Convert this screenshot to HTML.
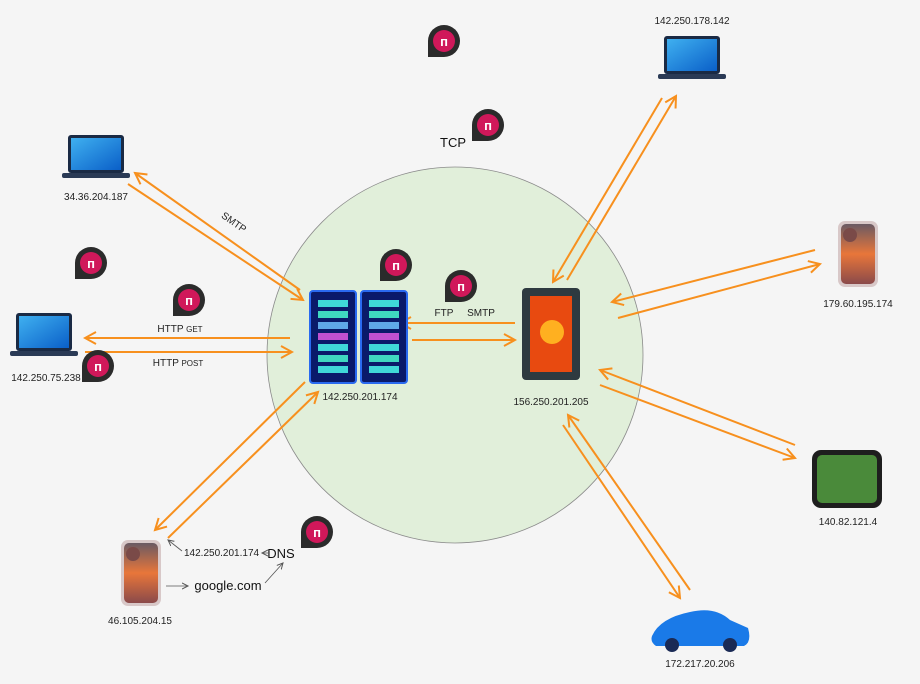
<!DOCTYPE html>
<html><head><meta charset="utf-8"><style>
html,body{margin:0;padding:0;background:#f5f5f5}
svg{display:block;font-family:"Liberation Sans",sans-serif}
</style></head><body>
<svg width="920" height="684" viewBox="0 0 920 684" xmlns="http://www.w3.org/2000/svg">
<defs>
<marker id="ah" markerWidth="14" markerHeight="14" refX="12" refY="7" orient="auto" markerUnits="userSpaceOnUse">
<path d="M1,1 L12,7 L1,13" fill="none" stroke="#f7901e" stroke-width="2"/>
</marker>
<marker id="sa" markerWidth="8" markerHeight="8" refX="6" refY="4" orient="auto" markerUnits="userSpaceOnUse">
<path d="M0,1 L6,4 L0,7" fill="none" stroke="#555" stroke-width="1"/>
</marker>
<linearGradient id="ph" x1="0" y1="0" x2="0" y2="1"><stop offset="0" stop-color="#6a5a63"/><stop offset="0.5" stop-color="#e8763a"/><stop offset="1" stop-color="#8a4a4a"/></linearGradient>
<linearGradient id="scr" x1="0" y1="0" x2="1" y2="1"><stop offset="0" stop-color="#3fb0f0"/><stop offset="1" stop-color="#0a5fc8"/></linearGradient>
<g id="badge"><path d="M0,16 A16,16 0 1 1 16,32 L0,32 Z" fill="#2b2b2b"/><circle cx="16" cy="16" r="11" fill="#d0185a"/><text x="16" y="21" font-size="13" fill="#fff" text-anchor="middle" font-weight="bold">п</text></g>
<g id="laptop"><rect x="6" y="0" width="56" height="38" rx="3" fill="#1a2a44"/><rect x="9" y="3" width="50" height="32" fill="url(#scr)"/><rect x="0" y="38" width="68" height="5" rx="2" fill="#2a3a55"/></g>
<g id="phone"><rect x="0" y="0" width="40" height="66" rx="7" fill="#d8c8c8"/><rect x="3" y="3" width="34" height="60" rx="5" fill="url(#ph)"/><circle cx="12" cy="14" r="7" fill="#7a4a48"/></g>
<g id="rack"><rect x="0" y="0" width="46" height="92" rx="3" fill="#0a1a6a" stroke="#2a6af0" stroke-width="2"/>
<rect x="8" y="9" width="30" height="7" fill="#3fd8d8"/><rect x="8" y="20" width="30" height="7" fill="#3fd8c0"/><rect x="8" y="31" width="30" height="7" fill="#5fa8e8"/><rect x="8" y="42" width="30" height="7" fill="#c050d0"/><rect x="8" y="53" width="30" height="7" fill="#3fd8d8"/><rect x="8" y="64" width="30" height="7" fill="#3fd8c0"/><rect x="8" y="75" width="30" height="7" fill="#3fd8d8"/></g>
</defs>

<circle cx="455" cy="355" r="188" fill="#e1efda" stroke="#8a8a8a" stroke-width="0.8"/>

<g stroke="#f7901e" stroke-width="2" fill="none" marker-end="url(#ah)">
<line x1="300" y1="290" x2="135" y2="173"/>
<line x1="128" y1="184" x2="303" y2="300"/>
<line x1="290" y1="338" x2="85" y2="338"/>
<line x1="85" y1="352" x2="292" y2="352"/>
<line x1="305" y1="382" x2="155" y2="530"/>
<line x1="168" y1="538" x2="318" y2="392"/>
<line x1="515" y1="323" x2="400" y2="323"/>
<line x1="412" y1="340" x2="515" y2="340"/>
<line x1="662" y1="98" x2="553" y2="282"/>
<line x1="567" y1="280" x2="676" y2="96"/>
<line x1="815" y1="250" x2="612" y2="302"/>
<line x1="618" y1="318" x2="820" y2="264"/>
<line x1="795" y1="445" x2="600" y2="370"/>
<line x1="600" y1="385" x2="795" y2="458"/>
<line x1="690" y1="590" x2="568" y2="415"/>
<line x1="563" y1="425" x2="680" y2="598"/>
</g>

<use href="#laptop" x="62" y="135"/>
<use href="#laptop" x="10" y="313"/>
<use href="#laptop" x="658" y="36"/>
<use href="#phone" x="838" y="221"/>
<use href="#phone" x="121" y="540"/>
<rect x="812" y="450" width="70" height="58" rx="9" fill="#1e1e1e"/><rect x="817" y="455" width="60" height="48" rx="5" fill="#4a8a3a"/>
<path d="M652,636 Q660,618 690,612 Q715,606 730,620 L748,628 Q752,642 744,646 L656,646 Q650,642 652,636Z" fill="#1a7ae8"/>
<circle cx="672" cy="645" r="7" fill="#1a2a55"/><circle cx="730" cy="645" r="7" fill="#1a2a55"/>
<use href="#rack" x="310" y="291"/>
<use href="#rack" x="361" y="291"/>
<rect x="522" y="288" width="58" height="92" rx="4" fill="#2e3a40"/><rect x="530" y="296" width="42" height="76" fill="#e84a10"/><circle cx="552" cy="332" r="12" fill="#ffb020"/>

<use href="#badge" x="428" y="25"/>
<use href="#badge" x="472" y="109"/>
<use href="#badge" x="75" y="247"/>
<use href="#badge" x="380" y="249"/>
<use href="#badge" x="173" y="284"/>
<use href="#badge" x="82" y="350"/>
<use href="#badge" x="445" y="270"/>
<use href="#badge" x="301" y="516"/>

<g font-size="10" fill="#222" text-anchor="middle">
<text x="96" y="200">34.36.204.187</text>
<text x="46" y="381">142.250.75.238</text>
<text x="692" y="24">142.250.178.142</text>
<text x="858" y="307">179.60.195.174</text>
<text x="848" y="525">140.82.121.4</text>
<text x="700" y="667">172.217.20.206</text>
<text x="140" y="624">46.105.204.15</text>
<text x="360" y="400">142.250.201.174</text>
<text x="551" y="405">156.250.201.205</text>
<text x="444" y="316">FTP</text>
<text x="481" y="316">SMTP</text>
<text x="180" y="332">HTTP <tspan font-size="8">GET</tspan></text>
<text x="178" y="366">HTTP <tspan font-size="8">POST</tspan></text>
<text x="0" y="0" transform="translate(232,225) rotate(35)">SMTP</text>
</g>
<text x="184" y="556" font-size="10" fill="#222">142.250.201.174</text>
<text x="453" y="147" font-size="13" fill="#111" text-anchor="middle">TCP</text>
<text x="281" y="558" font-size="13" fill="#111" text-anchor="middle">DNS</text>
<text x="228" y="590" font-size="13" fill="#111" text-anchor="middle">google.com</text>
<g stroke="#555" stroke-width="0.8" fill="none" marker-end="url(#sa)">
<line x1="268" y1="553" x2="262" y2="553"/>
<line x1="166" y1="586" x2="188" y2="586"/>
<line x1="265" y1="583" x2="283" y2="563"/>
<line x1="182" y1="551" x2="168" y2="540"/>
</g>
</svg>
</body></html>
